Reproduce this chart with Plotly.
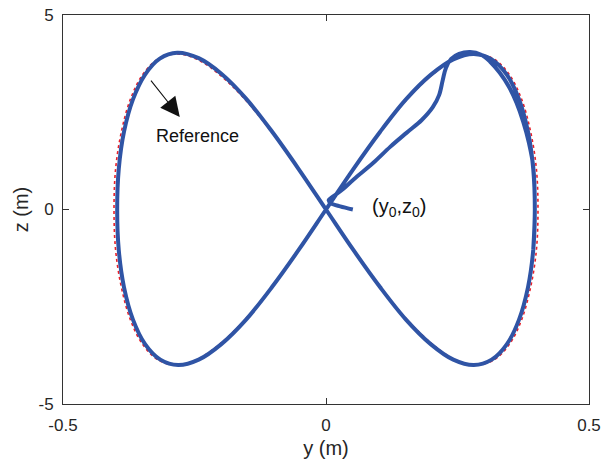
import plotly.graph_objects as go

# reference figure-eight (y, z)
ref_y = [0, 0.053, 0.104, 0.154, 0.202, 0.245, 0.285, 0.320, 0.349, 0.372, 0.389, 0.400, 0.403,
         0.400, 0.389, 0.372, 0.349, 0.320, 0.285, 0.245, 0.202, 0.154, 0.104, 0.053, 0,
         -0.053, -0.104, -0.154, -0.202, -0.245, -0.285, -0.320, -0.349, -0.372, -0.389, -0.400, -0.403,
         -0.400, -0.389, -0.372, -0.349, -0.320, -0.285, -0.245, -0.202, -0.154, -0.104, -0.053, 0]
ref_z = [0, 1.04, 2.0, 2.83, 3.46, 3.86, 4.0, 3.86, 3.46, 2.83, 2.0, 1.04, 0,
         -1.04, -2.0, -2.83, -3.46, -3.86, -4.0, -3.86, -3.46, -2.83, -2.0, -1.04, 0,
         1.04, 2.0, 2.83, 3.46, 3.86, 4.0, 3.86, 3.46, 2.83, 2.0, 1.04, 0,
         -1.04, -2.0, -2.83, -3.46, -3.86, -4.0, -3.86, -3.46, -2.83, -2.0, -1.04, 0]

# actual trajectory: start transient from (y0, z0) ...
trans_y = [0.051, 0.027, 0.010, 0.005, 0.013, 0.032, 0.053, 0.090, 0.122, 0.153, 0.182, 0.203, 0.215,
           0.222, 0.228, 0.238, 0.253, 0.274, 0.295, 0.312, 0.330, 0.348, 0.362, 0.375, 0.386, 0.394]
trans_z = [0.0, 0.08, 0.16, 0.24, 0.33, 0.52, 0.78, 1.20, 1.61, 1.97, 2.30, 2.63, 2.94,
           3.33, 3.64, 3.87, 4.00, 4.05, 3.98, 3.80, 3.52, 3.15, 2.75, 2.25, 1.70, 1.10]
# ... then settled laps along the reference
lap_y = [0.397, 0.394, 0.384, 0.367, 0.344, 0.315, 0.281, 0.242, 0.199, 0.152, 0.103, 0.052, 0,
         -0.052, -0.103, -0.152, -0.199, -0.242, -0.283, -0.316, -0.344, -0.367, -0.384, -0.394, -0.397,
         -0.394, -0.384, -0.367, -0.344, -0.315, -0.281, -0.242, -0.199, -0.152, -0.103, -0.052, 0,
         0.052, 0.103, 0.152, 0.199, 0.242, 0.281, 0.315, 0.344, 0.367, 0.384, 0.394, 0.397, 0.394]
lap_z = [0, -1.04, -2.0, -2.83, -3.46, -3.86, -4.0, -3.86, -3.46, -2.83, -2.0, -1.04, 0,
         1.04, 2.01, 2.85, 3.49, 3.89, 4.03, 3.88, 3.47, 2.83, 2.0, 1.04, 0,
         -1.04, -2.0, -2.83, -3.46, -3.86, -4.0, -3.86, -3.46, -2.83, -2.0, -1.04, 0,
         1.04, 2.0, 2.83, 3.46, 3.86, 4.0, 3.86, 3.46, 2.83, 2.0, 1.04, 0, -1.04]

x_ticks = [-0.5, 0, 0.5]
x_ticktext = ['-0.5', '0', '0.5']
y_ticks = [-5, 0, 5]
y_ticktext = ['-5', '0', '5']

FONT = 'Liberation Sans, Arial, sans-serif'
AX = '#333333'

fig = go.Figure()
fig.add_trace(go.Scatter(x=ref_y, y=ref_z, mode='lines',
                         line=dict(color='#E8202A', width=1.6, dash='dot', shape='spline', smoothing=1.0)))
fig.add_trace(go.Scatter(x=trans_y + lap_y, y=trans_z + lap_z, mode='lines',
                         line=dict(color='#2F54A5', width=4, shape='spline', smoothing=1.0)))

# arrow pointing at the reference curve
fig.add_annotation(x=-0.278, y=2.38, ax=-0.335, ay=3.35, xref='x', yref='y', axref='x', ayref='y',
                   text='', showarrow=True, arrowhead=2, arrowsize=3.5, arrowwidth=1.1, arrowcolor='#111111')
fig.add_annotation(x=-0.245, y=1.89, text='Reference', showarrow=False,
                   font=dict(size=18, color='#111111', family=FONT))
fig.add_annotation(x=0.139, y=0.04, text='(y<sub>0</sub>,z<sub>0</sub>)', showarrow=False,
                   font=dict(size=20, color='#111111', family=FONT))

fig.update_layout(
    width=605, height=459,
    margin=dict(l=63, r=16, t=15, b=55),
    plot_bgcolor='white', paper_bgcolor='white',
    showlegend=False,
    font=dict(family=FONT, color='#262626'),
)
fig.update_xaxes(range=[-0.5, 0.5], tickvals=x_ticks, ticktext=x_ticktext, automargin=False,
                 showgrid=False, zeroline=False, showline=True, linecolor=AX, linewidth=1,
                 mirror='ticks', ticks='inside', ticklen=6, tickcolor=AX,
                 tickfont=dict(size=17), ticklabelstandoff=6,
                 title=dict(text='y (m)', font=dict(size=20), standoff=6))
fig.update_yaxes(range=[-5, 5], tickvals=y_ticks, ticktext=y_ticktext, automargin=False,
                 showgrid=False, zeroline=False, showline=True, linecolor=AX, linewidth=1,
                 mirror='ticks', ticks='inside', ticklen=6, tickcolor=AX,
                 tickfont=dict(size=17), ticklabelstandoff=5,
                 title=dict(text='z (m)', font=dict(size=20), standoff=4))

# drop the page's default body margin so the figure sits at the window's corner
fig.write_html('out.html', config={'displayModeBar': False},
               post_script="document.body.style.margin='0';")
